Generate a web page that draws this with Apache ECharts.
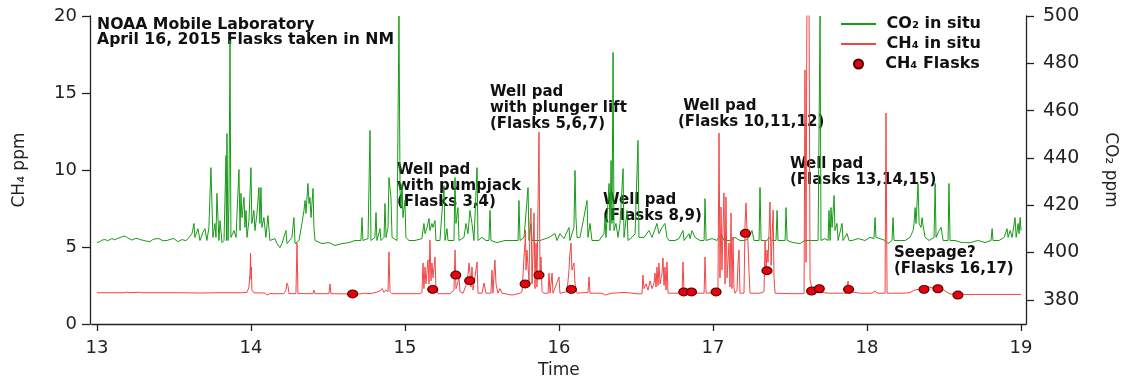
<!DOCTYPE html>
<html>
<head>
<meta charset="utf-8">
<script src="https://cdn.jsdelivr.net/npm/echarts@6/dist/echarts.min.js"></script>
<style>html,body{margin:0;padding:0;background:#fff}#c{width:1121px;height:380px}</style>
</head>
<body>
<div id="c"></div>
<script>
// ---- DATA ----
const xTicks = [13, 14, 15, 16, 17, 18, 19];
const co2Ticks = [380, 400, 420, 440, 460, 480, 500];
const seriesNames = ['CO₂ in situ', 'CH₄ in situ', 'CH₄ Flasks'];
const titleLines = ['NOAA Mobile Laboratory', 'April 16, 2015 Flasks taken in NM'];
const annotationTexts = [
  'Well pad\nwith pumpjack\n(Flasks 3,4)',
  'Well pad\nwith plunger lift\n(Flasks 5,6,7)',
  'Well pad\n(Flasks 8,9)',
  ' Well pad\n(Flasks 10,11,12)',
  'Well pad\n(Flasks 13,14,15)',
  'Seepage?\n(Flasks 16,17)'
];

// CO2 in situ [time, ppm]
const co2Data = [
[13.000,404.2],[13.019,404.6],[13.035,405.3],[13.052,405.5],[13.070,405.0],[13.097,405.9],[13.115,405.4],[13.136,406.0],[13.160,406.6],[13.182,407.0],[13.200,406.2],[13.227,405.3],[13.245,405.8],[13.260,406.0],[13.280,405.5],[13.292,405.9],[13.318,404.9],[13.344,404.6],[13.360,405.4],[13.377,405.8],[13.403,405.9],[13.429,405.0],[13.455,405.1],[13.481,405.7],[13.500,405.9],[13.526,404.6],[13.552,405.5],[13.578,405.0],[13.597,406.3],
[13.617,408.0],[13.630,412.3],[13.636,406.4],[13.656,410.1],[13.669,405.1],[13.688,408.5],[13.701,410.1],[13.714,405.1],[13.727,410.6],[13.740,435.9],[13.753,406.4],[13.766,412.3],[13.773,406.4],[13.779,425.0],[13.792,405.1],[13.799,413.5],[13.812,404.2],[13.825,405.1],[13.838,441.0],[13.841,405.1],[13.844,450.3],[13.851,405.1],[13.857,420.7],[13.864,489.6],[13.870,406.4],[13.890,409.3],[13.903,406.4],[13.922,435.1],[13.929,409.3],[13.935,425.0],[13.942,414.8],[13.955,423.3],[13.961,410.6],[13.968,417.8],[13.974,406.4],[13.987,413.5],[14.000,435.9],[14.006,412.3],[14.019,417.8],[14.026,409.3],[14.039,416.5],[14.052,427.5],[14.058,412.3],[14.065,427.5],[14.071,410.6],[14.084,414.8],[14.097,406.4],[14.110,415.6],[14.123,405.1],[14.156,405.9],[14.169,403.8],[14.188,402.1],
[14.201,403.8],[14.227,409.3],[14.234,403.8],[14.266,406.4],[14.279,414.8],[14.286,403.8],[14.312,405.1],[14.331,412.3],[14.344,417.8],[14.351,422.0],[14.357,416.5],[14.370,429.2],[14.377,420.7],[14.383,423.3],[14.390,414.8],[14.403,427.1],[14.409,410.6],[14.416,405.1],[14.461,403.8],[14.506,404.2],[14.545,403.0],[14.591,403.8],[14.636,404.2],[14.675,405.1],[14.714,405.1],[14.721,414.8],[14.727,405.1],[14.760,405.9],[14.773,451.6],[14.779,405.1],[14.805,406.4],[14.812,416.9],[14.818,405.1],[14.838,410.1],[14.844,405.1],[14.864,406.4],[14.870,420.7],[14.877,406.4],[14.890,410.6],[14.896,431.7],[14.909,423.3],[14.916,406.4],[14.948,405.1],[14.961,500.0],[14.968,426.2],[14.974,419.0],[14.981,429.2],[14.987,414.8],[15.000,422.0],[15.006,406.4],[15.026,405.1],[15.065,405.1],[15.110,405.9],[15.123,412.3],[15.130,408.0],[15.143,410.6],[15.156,414.4],[15.162,409.3],[15.175,412.3],[15.182,410.6],[15.195,413.5],[15.201,405.1],[15.227,405.1],[15.253,428.3],[15.260,405.1],[15.273,410.1],[15.279,405.1],[15.318,405.1],[15.325,431.7],[15.331,412.3],[15.344,419.0],[15.351,405.1],[15.383,406.4],[15.396,412.3],[15.409,408.0],[15.422,417.8],
[15.435,412.3],[15.448,405.1],[15.468,435.9],[15.474,405.1],[15.500,406.4],[15.526,405.1],[15.545,405.1],[15.552,417.8],[15.558,405.1],[15.597,404.2],[15.649,405.1],[15.695,405.1],[15.734,405.1],[15.740,422.0],[15.747,405.1],[15.773,406.4],[15.799,427.5],[15.805,405.1],[15.818,412.3],[15.825,405.1],[15.877,405.1],[15.935,406.4],[15.974,408.0],[15.987,405.1],[16.006,408.0],[16.032,405.9],[16.065,410.6],[16.071,405.1],[16.097,410.6],[16.104,434.7],[16.110,414.8],[16.117,406.4],[16.136,406.4],[16.149,410.6],[16.182,422.0],[16.188,406.4],[16.201,412.3],[16.214,405.1],[16.260,405.1],[16.292,408.0],[16.299,414.8],[16.305,406.4],[16.325,429.2],[16.331,409.3],[16.338,438.9],[16.344,412.3],[16.351,484.6],[16.357,409.3],[16.370,412.3],[16.383,406.4],[16.396,412.3],[16.416,435.5],[16.422,406.4],[16.442,417.8],[16.448,405.1],[16.474,406.4],[16.494,408.0],[16.513,447.4],[16.519,406.4],[16.552,406.4],[16.584,409.3],[16.604,406.4],[16.636,412.3],[16.649,408.0],[16.669,410.6],
[16.688,412.3],[16.701,406.4],[16.714,405.1],[16.753,405.1],[16.779,405.9],[16.805,409.3],[16.812,405.1],[16.844,408.0],[16.851,405.9],[16.864,409.3],[16.883,406.4],[16.916,405.1],[16.942,405.1],[16.948,422.8],[16.955,405.1],[16.994,405.9],[17.026,405.1],[17.052,408.0],[17.071,405.1],[17.110,405.1],[17.143,406.4],[17.175,405.1],[17.208,405.1],[17.234,406.4],[17.253,409.3],[17.266,405.1],[17.299,405.1],[17.305,427.5],[17.312,405.1],[17.351,405.1],[17.364,406.4],[17.383,405.1],[17.409,405.1],[17.416,417.8],[17.422,405.1],[17.468,405.1],[17.474,419.0],[17.481,405.1],[17.519,404.2],[17.565,403.8],[17.597,405.1],[17.643,405.1],[17.682,405.1],[17.695,500.0],[17.701,405.1],[17.727,405.9],[17.747,405.1],[17.753,417.8],[17.760,405.1],[17.766,419.0],[17.773,410.6],[17.786,424.1],[17.792,409.3],[17.805,412.3],[17.812,405.1],[17.838,412.3],[17.844,405.1],[17.870,408.0],[17.883,405.1],[17.903,405.1],
[17.942,405.9],[17.987,405.1],[18.019,406.4],[18.045,405.9],[18.052,414.8],[18.058,406.4],[18.084,405.9],[18.117,405.1],[18.136,403.8],[18.162,405.1],[18.169,414.8],[18.175,405.1],[18.214,405.1],[18.247,405.1],[18.279,406.4],[18.299,409.3],[18.305,412.3],[18.312,419.0],[18.318,412.3],[18.331,429.2],[18.338,412.3],[18.351,410.6],[18.357,414.8],[18.364,411.4],[18.377,406.4],[18.403,405.1],[18.435,406.4],[18.442,429.2],[18.448,406.4],[18.468,409.3],[18.481,410.6],[18.494,405.1],[18.526,405.1],[18.532,429.2],[18.539,405.1],[18.571,405.1],[18.617,404.2],[18.669,404.2],[18.721,405.1],[18.766,404.2],[18.805,405.1],[18.812,410.1],[18.818,405.1],[18.857,405.1],[18.890,406.4],[18.909,410.1],[18.916,406.4],[18.929,409.3],[18.942,406.4],[18.961,414.8],[18.968,406.4],[18.981,412.3],[18.987,408.0],[18.994,414.8],[19.000,409.3]
];

// CH4 in situ [time, ppm]
const ch4Data = [
[13.000,2.03],[13.182,2.03],[13.195,2.08],[13.208,2.03],[13.279,2.06],[13.292,2.03],[13.539,2.03],[13.669,2.01],[13.799,2.03],[13.929,2.03],[13.974,2.05],[13.987,2.40],[13.994,3.30],[13.997,4.61],[14.000,2.90],[14.003,3.70],[14.006,2.20],[14.019,2.03],[14.091,2.01],[14.104,1.88],[14.123,1.97],[14.214,1.97],[14.227,2.20],[14.234,2.66],[14.240,2.50],[14.247,1.97],[14.292,1.97],[14.299,5.26],[14.305,1.97],[14.403,1.97],[14.409,2.20],[14.416,1.97],[14.506,1.97],[14.513,2.60],[14.519,1.97],[14.643,1.95],[14.708,1.95],[14.740,2.00],[14.773,1.97],[14.812,2.05],[14.838,2.15],[14.851,2.30],[14.864,2.05],[14.877,2.20],[14.890,2.10],[14.896,4.68],[14.903,2.10],[14.916,1.97],
[15.097,1.97],[15.110,2.05],[15.117,3.96],[15.123,2.30],[15.130,3.70],[15.136,2.60],[15.149,4.16],[15.156,2.60],[15.162,5.45],[15.169,2.80],[15.175,3.96],[15.182,3.00],[15.195,4.35],[15.201,2.30],[15.214,1.97],[15.292,1.97],[15.318,2.20],[15.325,4.81],[15.331,2.30],[15.351,2.99],[15.357,2.10],[15.377,2.00],[15.396,2.50],[15.409,3.20],[15.416,3.96],[15.422,3.30],[15.429,2.40],[15.435,3.70],[15.442,2.20],[15.455,3.10],[15.468,4.03],[15.474,2.00],[15.500,2.00],[15.513,2.66],[15.526,2.00],[15.558,2.00],[15.565,3.50],[15.571,2.00],[15.584,4.16],[15.591,2.60],[15.604,2.00],[15.617,2.30],[15.630,2.00],[15.695,1.88],[15.747,2.00],[15.760,2.10],[15.773,4.35],[15.779,5.26],[15.782,6.10],[15.786,3.50],[15.792,4.80],[15.805,2.80],[15.812,6.56],[15.818,7.53],[15.825,2.60],[15.838,7.21],[15.844,2.30],[15.851,5.26],[15.857,2.40],[15.870,12.47],[15.877,3.00],[15.883,4.35],[15.890,2.10],[15.903,2.00],[15.929,2.00],[15.935,3.31],[15.942,2.00],[15.955,3.31],[15.961,2.00],[16.000,3.05],[16.006,2.00],[16.052,2.10],[16.065,3.51],[16.071,4.61],[16.078,5.26],[16.084,3.50],[16.097,3.96],[16.104,2.60],[16.117,2.00],[16.188,2.05],[16.195,3.05],[16.201,2.00],[16.279,2.00],[16.299,1.88],[16.344,2.00],[16.429,2.05],[16.519,1.95],[16.539,1.97],[16.545,3.18],[16.552,2.30],[16.565,2.60],[16.578,2.20],[16.591,2.80],[16.604,2.30],[16.617,2.66],[16.623,3.31],[16.630,2.40],[16.636,3.70],[16.643,2.50],[16.649,3.96],[16.656,2.60],[16.669,3.31],[16.675,4.29],[16.682,2.50],[16.688,3.70],[16.695,2.20],[16.701,4.03],[16.708,2.00],[16.721,2.00],[16.779,2.00],[16.799,2.10],[16.805,4.03],[16.812,2.05],[16.883,2.00],[16.942,2.00],[16.948,4.35],[16.955,2.00],
[17.019,2.05],[17.032,2.30],[17.039,12.40],[17.045,3.00],[17.052,7.60],[17.058,3.50],[17.071,8.51],[17.078,2.60],[17.084,8.25],[17.091,3.00],[17.104,5.26],[17.110,2.40],[17.117,7.21],[17.123,2.30],[17.130,5.65],[17.136,2.30],[17.143,2.00],[17.156,2.20],[17.162,3.96],[17.169,4.81],[17.175,2.00],[17.201,2.00],[17.208,6.56],[17.214,7.86],[17.221,6.00],[17.227,5.26],[17.234,3.30],[17.240,2.00],[17.305,2.00],[17.331,2.10],[17.338,5.45],[17.344,3.50],[17.351,4.81],[17.357,4.00],[17.370,7.92],[17.377,3.80],[17.390,7.40],[17.396,3.00],[17.403,2.00],[17.500,1.97],[17.591,1.97],[17.597,16.50],[17.604,4.00],[17.610,22.00],[17.623,22.00],[17.630,2.86],[17.643,2.30],[17.662,2.10],[17.695,2.05],[17.760,2.00],[17.864,2.00],[17.877,2.79],[17.883,2.10],[17.955,2.00],[18.032,2.00],[18.052,2.15],[18.065,2.00],[18.117,2.00],[18.123,13.70],[18.130,2.00],[18.247,2.00],[18.279,2.05],[18.312,2.21],[18.344,2.27],[18.390,2.47],[18.403,2.40],[18.442,2.30],[18.474,2.35],[18.506,2.15],[18.539,1.95],[18.604,1.92],[18.766,1.92],[19.000,1.92]
];

// CH4 flasks [time, ppm]
const flaskData = [
[14.66,1.95],[15.18,2.25],[15.33,3.18],[15.42,2.81],[15.78,2.60],[15.87,3.18],[16.08,2.25],[16.81,2.08],[16.86,2.08],[17.02,2.08],[17.21,5.89],[17.35,3.46],[17.64,2.14],[17.69,2.29],[17.88,2.25],[18.37,2.25],[18.46,2.29],[18.59,1.88]
];

// ---- CHART ----
const FONT = 'DejaVu Sans';
const AX = '#222';
const chart = echarts.init(document.getElementById('c'), null, {renderer: 'canvas'});

const annPos = [[397,162],[490,84],[603,192],[678,98],[790,156],[894,245]];
const graphics = [{
  type: 'text', left: 97, top: 17,
  style: {text: titleLines.join('\n'), font: 'bold 15.7px ' + FONT, lineHeight: 14.5, fill: '#111'}
}];
annotationTexts.forEach((t, i) => {
  graphics.push({type: 'text', left: annPos[i][0], top: annPos[i][1],
    style: {text: t, font: 'bold 15px ' + FONT, lineHeight: 16, fill: '#111'}});
});

const legendText = {fontFamily: FONT, fontWeight: 'bold', fontSize: 16, color: '#111'};

chart.setOption({
  animation: false,
  grid: {left: 91.7, right: 95, top: 16, bottom: 56, outerBoundsMode: 'none', containLabel: false},
  legend: [
    {data: [seriesNames[0]], left: 840, top: 16, padding: 0, itemWidth: 35, itemHeight: 14, formatter: ' {name}',
     itemStyle: {opacity: 0}, textStyle: legendText},
    {data: [seriesNames[1]], left: 840, top: 36, padding: 0, itemWidth: 35, itemHeight: 14, formatter: ' {name}',
     itemStyle: {opacity: 0}, textStyle: legendText},
    {data: [seriesNames[2]], left: 853, top: 56, padding: 0, itemWidth: 10, itemHeight: 9, formatter: '   {name}', textStyle: legendText}
  ],
  xAxis: {
    type: 'value', min: 12.966, max: 19.032, offset: 4,
    name: 'Time', nameLocation: 'middle', nameGap: 33,
    nameTextStyle: {fontFamily: FONT, fontSize: 17, color: AX},
    axisLine: {show: true, lineStyle: {color: AX, width: 1.3}},
    axisTick: {show: true, length: 7, customValues: xTicks, lineStyle: {color: AX, width: 1.3}},
    axisLabel: {customValues: xTicks, margin: 11, fontFamily: FONT, fontSize: 18, color: AX},
    splitLine: {show: false}
  },
  yAxis: [
    {
      type: 'value', min: 0, max: 20, interval: 5, position: 'left', offset: 1.7,
      name: 'CH₄ ppm', nameLocation: 'middle', nameGap: 62,
      nameTextStyle: {fontFamily: FONT, fontSize: 17, color: AX},
      axisLine: {show: true, lineStyle: {color: AX, width: 1.3}},
      axisTick: {show: true, length: 8, lineStyle: {color: AX, width: 1.3}},
      axisLabel: {margin: 13, fontFamily: FONT, fontSize: 18, color: AX},
      splitLine: {show: false}
    },
    {
      type: 'value', min: 369.8, max: 500, position: 'right', offset: 0,
      name: 'CO₂ ppm', nameLocation: 'middle', nameGap: 76, nameRotate: -90,
      nameTextStyle: {fontFamily: FONT, fontSize: 17, color: AX},
      axisLine: {show: true, lineStyle: {color: AX, width: 1.3}},
      axisTick: {show: true, length: 8, customValues: co2Ticks, lineStyle: {color: AX, width: 1.3}},
      axisLabel: {customValues: co2Ticks, margin: 17, fontFamily: FONT, fontSize: 19, color: AX},
      splitLine: {show: false}
    }
  ],
  series: [
    {name: seriesNames[0], type: 'line', yAxisIndex: 1, data: co2Data, symbol: 'none', showSymbol: false,
     sampling: null, lineStyle: {color: '#169b16', width: 1}, itemStyle: {color: '#169b16'}, z: 2},
    {name: seriesNames[1], type: 'line', yAxisIndex: 0, data: ch4Data, symbol: 'none', showSymbol: false,
     lineStyle: {color: '#f24646', width: 1}, itemStyle: {color: '#f24646'}, z: 3},
    {name: seriesNames[2], type: 'scatter', yAxisIndex: 0, data: flaskData, symbol: 'circle', symbolSize: [10, 8],
     itemStyle: {color: '#e8000b', borderColor: '#4a0000', borderWidth: 1, opacity: 1}, z: 4}
  ],
  graphic: graphics
});
</script>
</body>
</html>
